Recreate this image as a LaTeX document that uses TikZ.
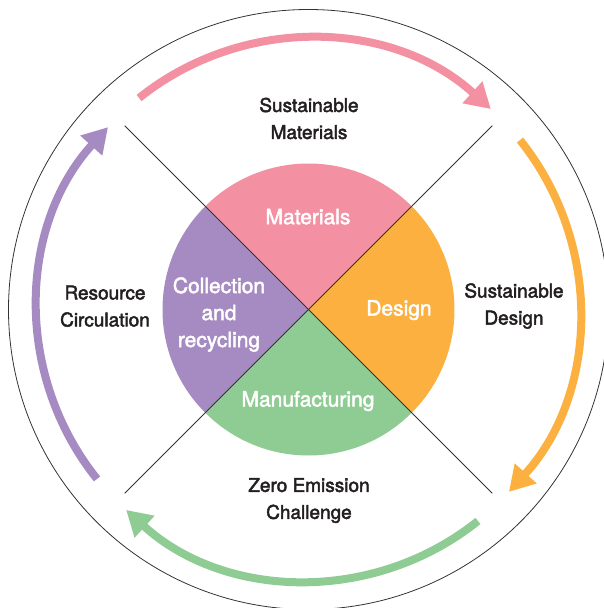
\documentclass[tikz,border=0pt]{standalone}
\usepackage{fontspec}
\setmainfont{TeX Gyre Heros}
\newfontfamily\labelfont{TeX Gyre Heros}
\newcommand\heavytext[1]{\special{pdf:literal direct 2 Tr 0.45 w}#1\special{pdf:literal direct 0 Tr}}
\usetikzlibrary{arrows.meta}
\definecolor{pinkc}{HTML}{F391A3}
\definecolor{orangec}{HTML}{FBB040}
\definecolor{greenc}{HTML}{8FCC93}
\definecolor{purplec}{HTML}{A68BC3}
\definecolor{textc}{HTML}{231F20}
\tikzset{
  thinline/.style={line width=0.8pt, draw=black!80},
  cyclearrow/.style={line width=8pt, -{Triangle[length=25pt,width=28pt]}},
  outerlabel/.style={font=\labelfont\fontsize{19}{27}\selectfont, text=textc, align=center, inner sep=0pt},
  innerlabel/.style={font=\labelfont\fontsize{21}{27}\selectfont, text=white, align=center, inner sep=0pt},
}
\begin{document}
\begin{tikzpicture}[x=1pt,y=1pt]
\useasboundingbox (-308.5,-298.5) rectangle (294.5,309.5);
\coordinate (c) at (0,0);
% quarters of the inner disc
\fill[pinkc]   (c) -- (45:146)   arc[start angle=45,  end angle=135, radius=146] -- cycle;
\fill[orangec] (c) -- (-45:146)  arc[start angle=-45, end angle=45,  radius=146] -- cycle;
\fill[greenc]  (c) -- (-135:146) arc[start angle=-135,end angle=-45, radius=146] -- cycle;
\fill[purplec] (c) -- (135:146)  arc[start angle=135, end angle=225, radius=146] -- cycle;
% diagonals
\coordinate (tl) at (135:260);
\coordinate (tr) at (45:260);
\coordinate (bl) at (225:260);
\coordinate (br) at (-45:260);
\draw[thinline] (tl) -- (br);
\draw[thinline] (tr) -- (bl);
% outer circle
\draw[thinline] (c) circle[radius=300];
% cycle arrows
\draw[cyclearrow, pinkc]   (128.7:271) arc[start angle=128.7, end angle=47.7,  radius=271];
\draw[cyclearrow, orangec] (38.7:271)  arc[start angle=38.7,  end angle=-42.3, radius=271];
\draw[cyclearrow, greenc]  (-51.3:271) arc[start angle=-51.3, end angle=-132.3,radius=271];
\draw[cyclearrow, purplec] (218.7:271) arc[start angle=218.7, end angle=137.7, radius=271];
% outer labels
\node[outerlabel] (sm) at (0.5,191) {\heavytext{Sustainable}\\\heavytext{Materials}};
\node[outerlabel] (sd) at (205.5,3.5) {\heavytext{Sustainable}\\\heavytext{Design}};
\node[outerlabel] (ze) at (0.5,-191) {\heavytext{Zero Emission}\\\heavytext{Challenge}};
\node[outerlabel] (rc) at (-203.5,3.3) {\heavytext{Resource}\\\heavytext{Circulation}};
% inner labels
\node[innerlabel, anchor=base] (mat) at (-0.5,85.3) {\heavytext{Materials}};
\node[innerlabel, anchor=base] (des) at (90.5,-6) {\heavytext{Design}};
\node[innerlabel, anchor=base] (man) at (-0.5,-97) {\heavytext{Manufacturing}};
\node[innerlabel] (col) at (-89.5,-5) {\heavytext{Collection}\\\heavytext{and}\\\heavytext{recycling}};
\end{tikzpicture}
\end{document}
